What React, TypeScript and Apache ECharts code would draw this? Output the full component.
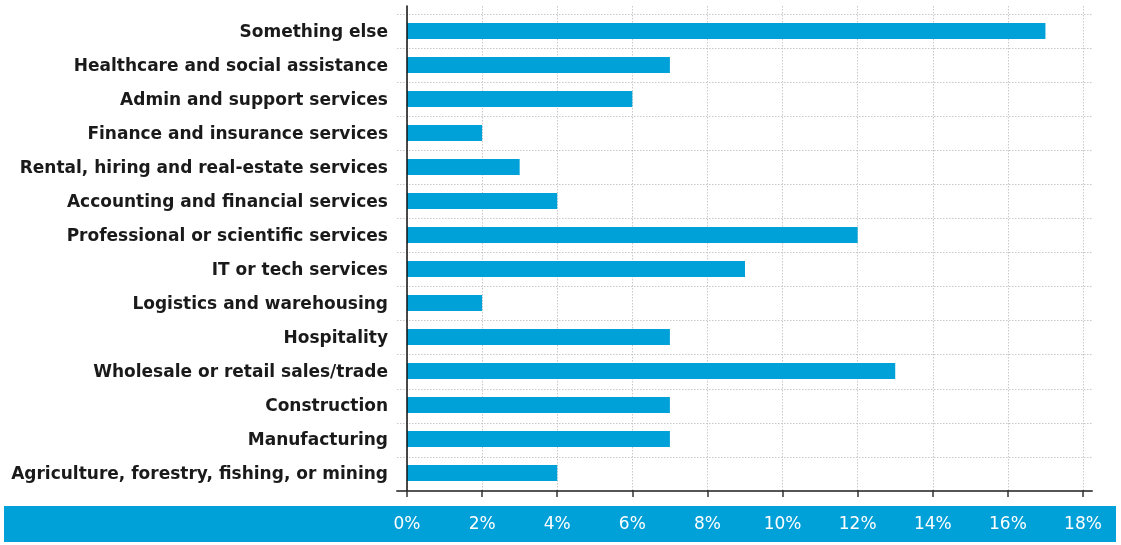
import React, { useEffect, useRef } from "react";
import * as echarts from "echarts";

const categories = [
  "Something else",
  "Healthcare and social assistance",
  "Admin and support services",
  "Finance and insurance services",
  "Rental, hiring and real-estate services",
  "Accounting and financial services",
  "Professional or scientific services",
  "IT or tech services",
  "Logistics and warehousing",
  "Hospitality",
  "Wholesale or retail sales/trade",
  "Construction",
  "Manufacturing",
  "Agriculture, forestry, fishing, or mining",
];
const values = [17, 7, 6, 2, 3, 4, 12, 9, 2, 7, 13, 7, 7, 4];
const xMin = 0;
const xMax = 18;
const xStep = 2;

const BLUE = "#00a0d8";
const FONT = "'DejaVu Sans', sans-serif";

export default function App() {
  const ref = useRef<HTMLDivElement>(null);
  useEffect(() => {
    const chart = echarts.init(ref.current!, null, { renderer: "svg" });
    const dotted = { show: true, lineStyle: { color: "#c8c8c8", type: [1.5, 1.5] as any, width: 1 } };
    chart.setOption({
      animation: false,
      graphic: [
        {
          type: "rect",
          left: 4,
          top: 506,
          shape: { width: 1112, height: 36 },
          style: { fill: BLUE },
          z: 0,
        },
      ],
      grid: [
        { left: 407, right: 38, top: 14, bottom: 55 },
        { left: 407, right: 38, top: 6, bottom: 54 },
        { left: 397, right: 29, top: 14, bottom: 54 },
      ],
      xAxis: [
        {
          gridIndex: 0,
          type: "value",
          min: xMin,
          max: xMax,
          interval: xStep,
          axisLine: { show: false },
          axisTick: { show: true, length: 7, lineStyle: { color: "#333", width: 1.5 } },
          splitLine: { show: false },
          axisLabel: {
            show: true,
            margin: 24,
            color: "#ffffff",
            fontFamily: FONT,
            fontWeight: "normal",
            fontSize: 17,
            formatter: (v: number) => v + "%",
          },
          z: 5,
        },
        {
          gridIndex: 1,
          type: "value",
          min: xMin,
          max: xMax,
          interval: xStep,
          axisLine: { show: false },
          axisTick: { show: false },
          axisLabel: { show: false },
          splitLine: dotted,
        },
        {
          gridIndex: 2,
          type: "value",
          min: 0,
          max: 1,
          axisLine: { show: true, lineStyle: { color: "#555", width: 2 } },
          axisTick: { show: false },
          axisLabel: { show: false },
          splitLine: { show: false },
        },
      ],
      yAxis: [
        {
          gridIndex: 0,
          type: "category",
          data: categories,
          inverse: true,
          axisLine: { show: false },
          axisTick: { show: false },
          splitLine: { show: false },
          axisLabel: {
            margin: 19,
            color: "#1a1a1a",
            fontFamily: FONT,
            fontWeight: "bold",
            fontSize: 17,
            padding: [3, 0, 0, 0],
          },
        },
        {
          gridIndex: 1,
          type: "value",
          min: 0,
          max: 1,
          axisLine: { show: true, lineStyle: { color: "#111", width: 1.5 } },
          axisTick: { show: false },
          axisLabel: { show: false },
          splitLine: { show: false },
          z: 4,
        },
        {
          gridIndex: 2,
          type: "category",
          data: categories,
          inverse: true,
          axisLine: { show: false },
          axisTick: { show: false },
          axisLabel: { show: false },
          splitLine: dotted,
        },
      ],
      series: [
        {
          type: "bar",
          xAxisIndex: 0,
          yAxisIndex: 0,
          data: values,
          barWidth: 16,
          itemStyle: { color: BLUE },
          z: 3,
        },
      ],
    });
    return () => chart.dispose();
  }, []);
  return <div ref={ref} style={{ position: "fixed", left: 0, top: 0, width: 1121, height: 545 }} />;
}
